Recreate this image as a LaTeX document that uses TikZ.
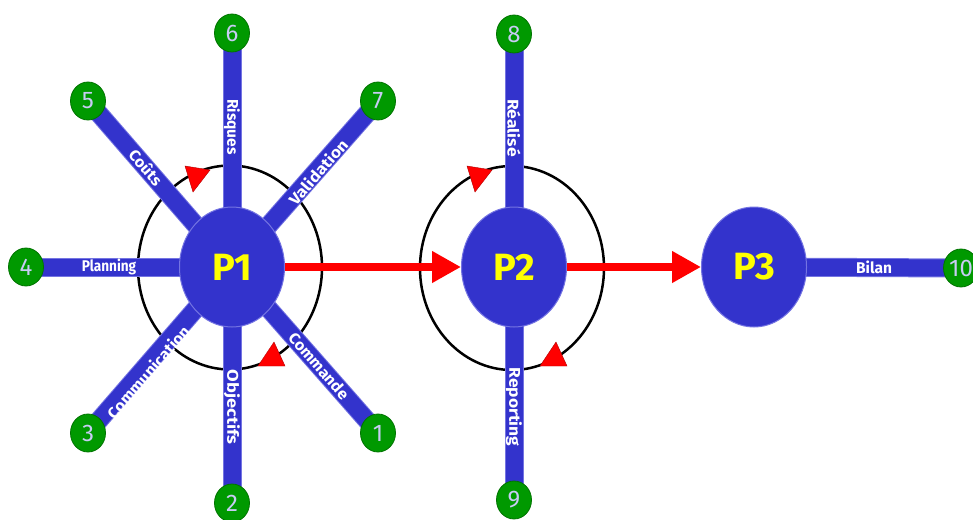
\documentclass[tikz,border=0pt]{standalone}
\usepackage{fontspec}
\setmainfont{Fira Sans}
\usetikzlibrary{shapes.geometric,arrows.meta}
\definecolor{barblue}{HTML}{3333CC}
\definecolor{baredge}{HTML}{7474E2}
\definecolor{nodegreen}{HTML}{009900}
\definecolor{numtext}{HTML}{C8CCF4}
\definecolor{pyellow}{HTML}{FFFF00}
\pgfdeclarelayer{back}
\pgfdeclarelayer{mid}
\pgfsetlayers{back,mid,main}
\begin{document}
\begin{tikzpicture}[x=1pt,y=-1pt,
  pnode/.style={ellipse, fill=barblue, draw=baredge, line width=1pt, minimum width=105pt, minimum height=120pt, inner sep=0pt, text=pyellow, font=\fontsize{38}{40}\selectfont\bfseries},
  numnode/.style={ellipse, fill=nodegreen, draw=nodegreen!75!black, line width=0.8pt, minimum width=35pt, minimum height=38pt, inner sep=0pt, text=numtext, font=\fontsize{24}{26}\selectfont},
  bar/.style={draw=baredge, line width=1pt, double=barblue, double distance=17pt},
  lbl/.style={text=white, font=\fontsize{15.5}{17}\selectfont\bfseries, inner sep=0pt},
  cyc/.style={draw=black, line width=2.5pt},
  flow/.style={draw=red, line width=8pt, -{Triangle[length=29pt,width=30pt]}},
  tri/.style={fill=red, draw=red!70!black, line width=0.4pt},
]
\useasboundingbox (0,0) rectangle (973,519);
% process nodes
\node[pnode] (p1) at (232,267) {P1};
\node[pnode] (p2) at (514,267) {P2};
\node[pnode] (p3) at (754,267) {P3};
% numbered nodes
\node[numnode] (n1) at (378,433) {1};
\node[numnode] (n2) at (232,503) {2};
\node[numnode] (n3) at (88,433) {3};
\node[numnode] (n4) at (26,267) {4};
\node[numnode] (n5) at (88,101) {5};
\node[numnode] (n6) at (232,33) {6};
\node[numnode] (n7) at (378,101) {7};
\node[numnode] (n8) at (514,34) {8};
\node[numnode] (n9) at (514,500) {9};
\node[numnode] (n10) at (961,268) {10};
% cycles
\begin{pgfonlayer}{back}
\draw[cyc] (230,267.5) ellipse [x radius=92, y radius=102];
\draw[cyc] (512,268) ellipse [x radius=92, y radius=102];
\end{pgfonlayer}
% bars
\begin{pgfonlayer}{mid}
\foreach \n in {1,...,7} {\draw[bar] (p1.center) -- (n\n.center);}
\draw[bar] (p2.center) -- (n8.center);
\draw[bar] (p2.center) -- (n9.center);
\draw[bar] (p3.center) -- (n10.center);
\end{pgfonlayer}
% cycle arrowheads
\fill[tri] (185,166) -- (210,170) -- (193,192) -- cycle;
\fill[tri] (274,342) -- (258,366) -- (285,366) -- cycle;
\fill[tri] (467,166) -- (492,170) -- (475,192) -- cycle;
\fill[tri] (556,342) -- (540,366) -- (567,366) -- cycle;
% flow arrows
\draw[flow] (p1.east) -- (p2.west);
\draw[flow] (p2.east) -- (p3.west);
% labels
\node[lbl, rotate=-90] at (232,127) {Risques};
\node[lbl, rotate=-49, xscale=1.05] at (146,167) {Coûts};
\node[lbl, rotate=49, xscale=1.13] at (318,172) {Validation};
\node[lbl, xscale=0.88] at (109,267) {Planning};
\node[lbl, rotate=49, xscale=1.06] at (148,372) {Communication};
\node[lbl, rotate=-90, xscale=1.18] at (232,407) {Objectifs};
\node[lbl, rotate=-49, xscale=1.05] at (319,366) {Commande};
\node[lbl, rotate=-90, xscale=1.13] at (514,128) {Réalisé};
\node[lbl, rotate=-90, xscale=1.12] at (514,407) {Reporting};
\node[lbl] at (874,267) {Bilan};
\end{tikzpicture}
\end{document}
